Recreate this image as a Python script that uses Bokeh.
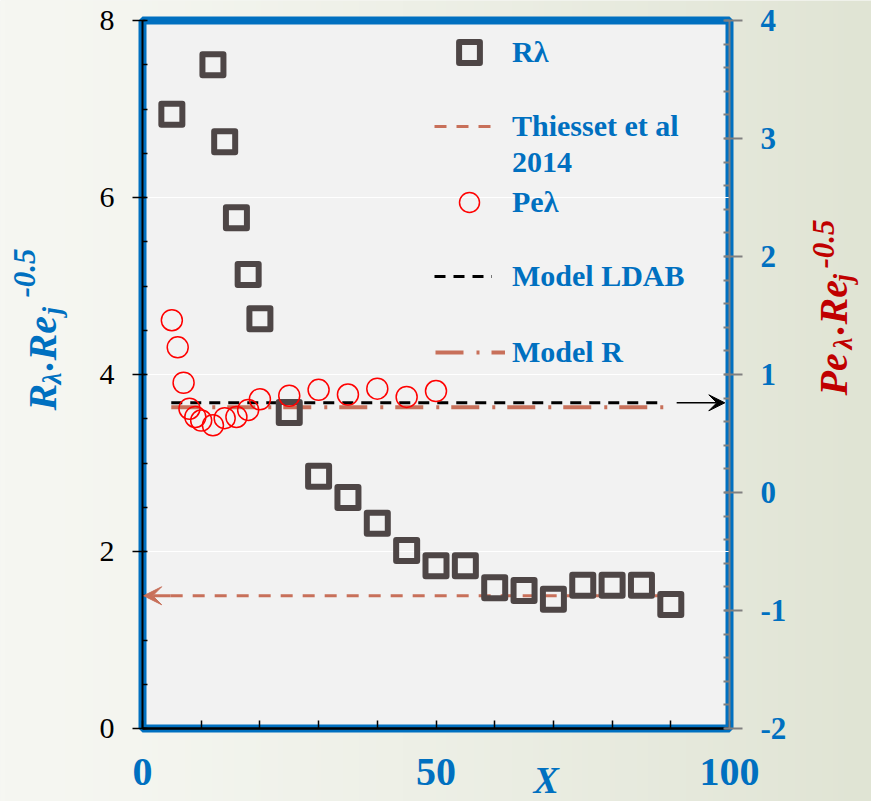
import math
import numpy as np
from bokeh.plotting import figure
from bokeh.models import (Range1d, LinearAxis, SingleIntervalTicker, FixedTicker,
                          Label, Legend, LegendItem, Arrow, VeeHead)
from bokeh.embed import file_html
from bokeh.resources import INLINE

# ---- data ----
x_r = [5, 12, 14, 16, 18, 20, 25, 30, 35, 40, 45, 50, 55, 60, 65, 70, 75, 80, 85, 90]
r_lambda = [6.94, 7.50, 6.63, 5.77, 5.13, 4.63, 3.57, 2.85, 2.61, 2.32, 2.01, 1.84,
            1.84, 1.59, 1.56, 1.46, 1.62, 1.62, 1.62, 1.40]

x_pe = [5, 6, 7, 8, 9, 10, 12, 14, 16, 18, 20, 25, 30, 35, 40, 45, 50]
pe_lambda = [1.46, 1.23, 0.93, 0.71, 0.64, 0.61, 0.57, 0.63, 0.64, 0.70, 0.79,
             0.82, 0.87, 0.83, 0.88, 0.81, 0.86]

thiesset_x = [4.8, 88.8]
thiesset_val = 1.5          # left axis
thiesset_arrow_x = [4.8, 0.2]

ldab_x = [4.9, 89.0]
ldab_val = 0.76             # right axis
ldab_arrow_x = [91.0, 99.2]

model_r_x = [4.9, 90.0]
model_r_val = 3.63          # left axis

grid_y = [2, 4, 6]
x_tick_labels = {0: "0", 50: "50", 100: "100"}
pe_tick_labels = {-2: "-2", -1: "-1", 0: "0", 1: "1", 2: "2", 3: "3", 4: "4"}

# plot area bounds in data units
X0, X1 = 0, 100
Y0, Y1 = 0, 8
PE0, PE1 = -2, 4

BLUE = "#0070c0"
DARKRED = "#c00000"
BROWN = "#c8705a"
SQ = "#4e4646"
SERIF = "Liberation Serif"

# canvas layout: plot area occupies pixels [142, 729] x [20, 728] of an 871 x 801 canvas
W, H = 871, 801
PX0, PX1, PY_TOP, PY_BOT = 142, 729, 20, 728
sx = (PX1 - PX0) / (X1 - X0)
sy = (PY_BOT - PY_TOP) / (Y1 - Y0)
spe = (PY_BOT - PY_TOP) / (PE1 - PE0)

x_range = Range1d(X0 - PX0 / sx, X1 + (W - PX1) / sx)
y_range = Range1d(Y0 - (H - PY_BOT) / sy, Y1 + PY_TOP / sy)
pe_range = Range1d(PE0 - (H - PY_BOT) / spe, PE1 + PY_TOP / spe)

p = figure(width=W, height=H, x_range=x_range, y_range=y_range,
           x_axis_location=None, y_axis_location=None,
           output_backend="svg", toolbar_location=None, min_border=0,
           background_fill_color="#eceee6", border_fill_color="#eceee6",
           outline_line_color=None)
p.extra_y_ranges = {"pe": pe_range}
p.grid.visible = False

# soft page background: light on the left, greener grey on the right
ncol = 160
t = np.linspace(0, 1, ncol)
r_ch = (246 - 22 * t ** 1.3).astype(np.uint32)
g_ch = (247 - 19 * t ** 1.3).astype(np.uint32)
b_ch = (242 - 30 * t ** 1.3).astype(np.uint32)
bg = (255 << 24) | (b_ch << 16) | (g_ch << 8) | r_ch
bg = bg.reshape(1, ncol)
p.image_rgba(image=[bg], x=x_range.start, y=y_range.start,
             dw=x_range.end - x_range.start, dh=y_range.end - y_range.start)

# plot area with its blue frame
p.quad(left=[X0], right=[X1], bottom=[Y0], top=[Y1], fill_color="#f2f2f2",
       line_color=BLUE, line_width=8)
p.segment(x0=[X0] * len(grid_y), x1=[X1] * len(grid_y), y0=grid_y, y1=grid_y,
          line_color="white", line_width=1)

# left axis
ly = LinearAxis(fixed_location=X0, bounds=(Y0, Y1),
                ticker=SingleIntervalTicker(interval=2, num_minor_ticks=4))
ly.axis_line_color = "black"
ly.axis_line_width = 2
ly.major_tick_line_color = "black"
ly.major_tick_line_width = 1.5
ly.major_tick_in = 3
ly.major_tick_out = 10
ly.minor_tick_line_color = "black"
ly.minor_tick_line_width = 1.5
ly.minor_tick_in = 5
ly.minor_tick_out = 0
ly.major_label_text_font = SERIF
ly.major_label_text_font_size = "30px"
ly.major_label_text_color = "black"
ly.major_label_standoff = 18
p.add_layout(ly, "left")

# bottom axis
bx = LinearAxis(fixed_location=Y0, bounds=(X0, X1),
                ticker=FixedTicker(ticks=list(range(0, 101, 10))))
bx.major_label_overrides = {t: x_tick_labels.get(t, "") for t in range(0, 101, 10)}
bx.axis_line_color = "black"
bx.axis_line_width = 2.5
bx.major_tick_line_color = "black"
bx.major_tick_line_width = 1.5
bx.major_tick_in = 8
bx.major_tick_out = 0
bx.minor_tick_line_color = None
bx.major_label_text_font = SERIF
bx.major_label_text_font_style = "bold"
bx.major_label_text_font_size = "40px"
bx.major_label_text_color = BLUE
bx.major_label_standoff = 30
p.add_layout(bx, "below")

# right axis
ry = LinearAxis(y_range_name="pe", fixed_location=X1, bounds=(PE0, PE1),
                ticker=SingleIntervalTicker(interval=1, num_minor_ticks=5))
ry.major_label_overrides = pe_tick_labels
ry.axis_line_color = "#808080"
ry.axis_line_width = 2
ry.major_tick_line_color = "#808080"
ry.major_tick_line_width = 2
ry.major_tick_in = 5
ry.major_tick_out = 13
ry.minor_tick_line_color = "#808080"
ry.minor_tick_line_width = 2
ry.minor_tick_in = 6
ry.minor_tick_out = 0
ry.major_label_text_font = SERIF
ry.major_label_text_font_style = "bold"
ry.major_label_text_font_size = "31px"
ry.major_label_text_color = BLUE
ry.major_label_standoff = 18
p.add_layout(ry, "right")

# reference lines
r_thiesset = p.line(thiesset_x, [thiesset_val] * 2, line_color=BROWN, line_width=3,
                    line_dash="12 10")
p.add_layout(Arrow(end=VeeHead(size=18, fill_color=BROWN, line_color=BROWN),
                   x_start=thiesset_arrow_x[0], y_start=thiesset_val,
                   x_end=thiesset_arrow_x[1], y_end=thiesset_val,
                   line_color=BROWN, line_width=3))

r_model_r = p.line(model_r_x, [model_r_val] * 2, line_color=BROWN, line_width=4,
                   line_dash="28 13 3 12")

r_ldab = p.line(ldab_x, [ldab_val] * 2, y_range_name="pe", line_color="black",
                line_width=3, line_dash="11 8")
p.add_layout(Arrow(end=VeeHead(size=16, fill_color="black", line_color="black"),
                   x_start=ldab_arrow_x[0], y_start=ldab_val,
                   x_end=ldab_arrow_x[1], y_end=ldab_val,
                   line_color="black", line_width=1.5, y_range_name="pe"))

# data series
r_sq = p.scatter(x_r, r_lambda, marker="square", size=21, fill_color=None,
                 line_color=SQ, line_width=6, line_join="round")
r_pe = p.scatter(x_pe, pe_lambda, y_range_name="pe", marker="circle", size=21,
                 fill_color=None, line_color="red", line_width=1.5)
r_blank = p.line(x=[], y=[], line_alpha=0)


def add_legend(items, x, y, gw, gh, standoff):
    # x, y: bottom-left corner of the legend in canvas pixels (y from the top)
    leg = Legend(items=items, location=(x, H - y), orientation="vertical",
                 padding=0, margin=0, spacing=0,
                 glyph_width=gw, glyph_height=gh, label_height=gh,
                 label_standoff=standoff,
                 border_line_alpha=0, background_fill_alpha=0,
                 label_text_font=SERIF, label_text_font_style="bold",
                 label_text_font_size="30px", label_text_color=BLUE)
    p.add_layout(leg)


add_legend([LegendItem(label="Rλ", renderers=[r_sq])], 439, 78, 60, 52, 13)
add_legend([LegendItem(label="Thiesset et al", renderers=[r_thiesset]),
            LegendItem(label="2014", renderers=[r_blank])], 434, 180, 58, 36, 20)
add_legend([LegendItem(label="Peλ", renderers=[r_pe])], 439, 227, 60, 50, 13)
add_legend([LegendItem(label="Model LDAB", renderers=[r_ldab])], 434, 294, 58, 36, 20)
add_legend([LegendItem(label="Model R", renderers=[r_model_r])], 435, 370, 70, 36, 7)


# axis titles built from pieces, placed in canvas pixels by their baseline
def text_piece(text, size, bx_, by_, color, angle):
    shift = 0.3375 * size   # from the baseline to the middle of the text box
    cx = bx_ - shift * math.sin(angle)
    cy = by_ - shift * math.cos(angle)
    p.add_layout(Label(x=cx, y=cy, x_units="canvas", y_units="canvas",
                       text=text, angle=angle,
                       text_font=SERIF, text_font_style="bold italic",
                       text_font_size=f"{size}px", text_color=color,
                       text_align="left", text_baseline="middle"))


def vertical_title(pieces, color):
    for text, size, start_y, base_x in pieces:
        text_piece(text, size, base_x, start_y, color, math.pi / 2)


vertical_title([("R", 40, 410, 55), ("λ", 27, 384, 61), (".", 40, 370, 53),
                ("Re", 40, 360, 55), ("j", 27, 314, 61), ("-0.5", 31, 297, 34)], BLUE)
vertical_title([("Pe", 40, 395, 846), ("λ", 27, 349, 852), (".", 40, 334, 844),
                ("Re", 40, 324, 846), ("j", 27, 281, 852), ("-0.5", 31, 268, 833)], DARKRED)
text_piece("X", 38, 533, 792, BLUE, 0)

open("out.html", "w").write(file_html(p, INLINE))
